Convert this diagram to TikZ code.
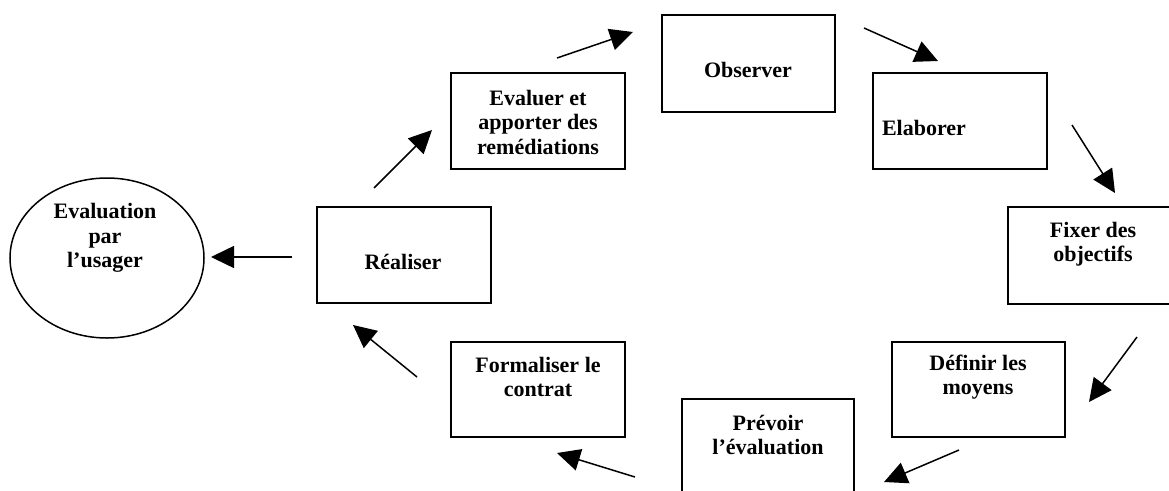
\documentclass[tikz,border=0pt]{standalone}
\usepackage{fontspec}
\setmainfont{Liberation Serif}
\usetikzlibrary{arrows.meta,shapes.geometric}
\begin{document}
\begin{tikzpicture}[x=1pt,y=-1pt,
  stagebox/.style={draw=black, line width=1.5pt, rectangle, inner sep=0pt},
  txt/.style={font=\fontsize{22}{24.5}\selectfont\bfseries, align=center, inner sep=0pt},
  arr/.style={line width=1.5pt, -{Triangle[length=23pt,width=22pt]}}]
\useasboundingbox (0,0) rectangle (1169,490);
\clip (0,0) rectangle (1169,490);
% boxes
\node[stagebox, minimum width=173pt, minimum height=97pt] (obs) at (748.5,63.5) {};
\node[stagebox, minimum width=174pt, minimum height=96pt] (eva) at (538,121) {};
\node[stagebox, minimum width=174pt, minimum height=96pt] (ela) at (960,121) {};
\node[stagebox, minimum width=174pt, minimum height=96pt] (rea) at (404,255) {};
\node[stagebox, minimum width=174pt, minimum height=97pt] (fix) at (1095,255.5) {};
\node[stagebox, minimum width=173pt, minimum height=95pt] (def) at (978.5,389.5) {};
\node[stagebox, minimum width=174pt, minimum height=95pt] (for) at (538,389.5) {};
\node[stagebox, minimum width=172pt, minimum height=96pt] (pre) at (768,447) {};
\node[draw=black, line width=1.5pt, ellipse, minimum width=194pt, minimum height=160pt, inner sep=0pt] (usa) at (107,258) {};
% texts
\node[txt] (obs-t) at (748,70) {Observer};
\node[txt] (eva-t) at (538,122) {Evaluer et\\apporter des\\remédiations};
\node[txt] (ela-t) at (924,128) {Elaborer};
\node[txt] (rea-t) at (403,262) {Réaliser};
\node[txt] (fix-t) at (1093,244) {Fixer des\\objectifs};
\node[txt] (def-t) at (978,377) {Définir les\\moyens};
\node[txt] (for-t) at (538,377) {Formaliser le\\contrat};
\node[txt] (pre-t) at (768,435) {Prévoir\\l’évaluation};
\node[txt] (usa-t) at (105,238) {Evaluation\\par\\l’usager};
% arrow end points
\coordinate (a1s) at (292,257); \coordinate (a1e) at (211,257);
\coordinate (a2s) at (374,188); \coordinate (a2e) at (432,130);
\coordinate (a3s) at (557,58);  \coordinate (a3e) at (633,32);
\coordinate (a4s) at (864,28);  \coordinate (a4e) at (938,61);
\coordinate (a5s) at (1072,125); \coordinate (a5e) at (1115,193);
\coordinate (a6s) at (1137,337); \coordinate (a6e) at (1089,402);
\coordinate (a7s) at (959,450); \coordinate (a7e) at (884,482);
\coordinate (a8s) at (635,477); \coordinate (a8e) at (557,453);
\coordinate (a9s) at (417,377); \coordinate (a9e) at (353,325);
\draw[arr] (a1s) -- (a1e);
\draw[arr] (a2s) -- (a2e);
\draw[arr] (a3s) -- (a3e);
\draw[arr] (a4s) -- (a4e);
\draw[arr] (a5s) -- (a5e);
\draw[arr] (a6s) -- (a6e);
\draw[arr] (a7s) -- (a7e);
\draw[arr] (a8s) -- (a8e);
\draw[arr] (a9s) -- (a9e);
\end{tikzpicture}
\end{document}
